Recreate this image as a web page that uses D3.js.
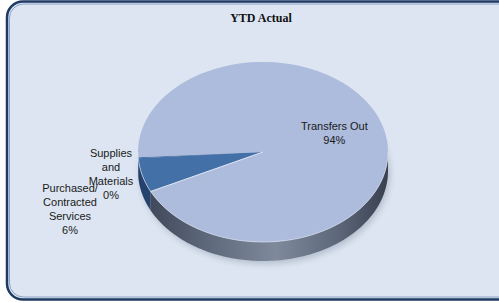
<!DOCTYPE html>
<html>
<head>
<meta charset="utf-8">
<script src="https://cdn.jsdelivr.net/npm/d3@7.9.0/dist/d3.min.js"></script>
<style>
  html, body { margin: 0; padding: 0; background: #ffffff; }
  svg { display: block; }
</style>
</head>
<body>
<svg id="chart" width="499" height="303"></svg>
<script>
// chart data
const title = 'YTD Actual';
const categories = ['Purchased/Contracted Services', 'Supplies and Materials', 'Transfers Out'];
const values = [6.1, 0.2, 93.7];
const labelLines = [
  ['Purchased/', 'Contracted', 'Services'],
  ['Supplies', 'and', 'Materials'],
  ['Transfers Out']
];

const W = 499, H = 303;
const cx = 263, cy = 152, rx = 125, ry = 90, depth = 19;
const startDeg = 244;

const svg = d3.select('#chart');
const defs = svg.append('defs');

// frame background
svg.append('rect')
  .attr('x', 7).attr('y', 1.5)
  .attr('width', 540).attr('height', 298)
  .attr('rx', 16)
  .attr('fill', '#dce5f1')
  .attr('stroke', '#1f3b63')
  .attr('stroke-width', 2.5);
svg.append('rect')
  .attr('x', 9.5).attr('y', 4)
  .attr('width', 540).attr('height', 293)
  .attr('rx', 14)
  .attr('fill', 'none')
  .attr('stroke', '#8aa2c6')
  .attr('stroke-width', 1);

// title
svg.append('text')
  .attr('x', 261).attr('y', 22)
  .attr('text-anchor', 'middle')
  .attr('font-family', '"Liberation Serif", "Times New Roman", serif')
  .attr('font-weight', 'bold')
  .attr('font-size', 12)
  .attr('fill', '#111')
  .text(title);

// gradient for the pie wall
const wallGrad = defs.append('linearGradient')
  .attr('id', 'wall')
  .attr('gradientUnits', 'userSpaceOnUse')
  .attr('x1', cx - rx).attr('x2', cx + rx).attr('y1', 0).attr('y2', 0);
[[0, '#3a4354'], [0.25, '#5b6578'], [0.55, '#7f899c'], [0.8, '#5d677a'], [1, '#39414f']]
  .forEach(([o, c]) => wallGrad.append('stop').attr('offset', o).attr('stop-color', c));

const darkWall = defs.append('linearGradient')
  .attr('id', 'wallDark')
  .attr('gradientUnits', 'userSpaceOnUse')
  .attr('x1', cx - rx).attr('x2', cx + rx).attr('y1', 0).attr('y2', 0);
[[0, '#24406a'], [0.3, '#34588c'], [1, '#34588c']]
  .forEach(([o, c]) => darkWall.append('stop').attr('offset', o).attr('stop-color', c));

defs.append('filter').attr('id', 'blur')
  .attr('x', '-20%').attr('y', '-50%').attr('width', '140%').attr('height', '200%')
  .append('feGaussianBlur').attr('stdDeviation', 3);

const pie = d3.pie().sort(null).value(d => d)
  .startAngle(startDeg * Math.PI / 180)
  .endAngle((startDeg + 360) * Math.PI / 180);
const arcs = pie(values);

const topColors = ['#4470a8', '#4470a8', '#adbbdc'];
const wallFills = ['url(#wallDark)', 'url(#wallDark)', 'url(#wall)'];

const px = a => cx + rx * Math.sin(a);
const py = a => cy - ry * Math.cos(a);

// soft shadow under pie
svg.append('ellipse')
  .attr('cx', cx + 2).attr('cy', cy + depth + 3)
  .attr('rx', rx).attr('ry', ry)
  .attr('fill', '#5a6478')
  .attr('opacity', 0.3)
  .attr('filter', 'url(#blur)');

// pie walls (only the front half is visible)
function wallPath(a0, a1) {
  const segs = [];
  for (let k = -1; k <= 2; k++) {
    const lo = Math.max(a0, Math.PI / 2 + 2 * Math.PI * k);
    const hi = Math.min(a1, 3 * Math.PI / 2 + 2 * Math.PI * k);
    if (hi > lo) segs.push([lo, hi]);
  }
  return segs.map(([lo, hi]) => {
    const n = Math.max(2, Math.ceil((hi - lo) / 0.02));
    const ts = d3.range(n + 1).map(i => lo + (hi - lo) * i / n);
    const topPts = ts.map(t => [px(t), py(t)]);
    const botPts = ts.slice().reverse().map(t => [px(t), py(t) + depth]);
    return d3.line()(topPts.concat(botPts)) + 'Z';
  }).join(' ');
}

svg.append('g').selectAll('path')
  .data(arcs)
  .join('path')
  .attr('d', d => wallPath(d.startAngle, d.endAngle))
  .attr('fill', (d, i) => wallFills[i]);

// top faces
const arcGen = d3.arc().innerRadius(0).outerRadius(rx);
svg.append('g')
  .attr('transform', `translate(${cx},${cy}) scale(1,${ry / rx})`)
  .selectAll('path')
  .data(arcs)
  .join('path')
  .attr('d', arcGen)
  .attr('fill', (d, i) => topColors[i]);

// light line on the lower cut of the small slice
const cut = arcs[0].startAngle;
svg.append('line')
  .attr('x1', cx).attr('y1', cy)
  .attr('x2', px(cut)).attr('y2', py(cut))
  .attr('stroke', '#e8eef8')
  .attr('stroke-width', 0.9);

// light rim along front edge
svg.append('path')
  .attr('d', d3.line()(d3.range(91).map(i => {
    const t = Math.PI / 2 + Math.PI * i / 90;
    return [px(t), py(t)];
  })))
  .attr('fill', 'none')
  .attr('stroke', '#dfe6f3')
  .attr('stroke-width', 0.8)
  .attr('opacity', 0.8);

// data labels
const labelPos = [
  { x: 70, y: 188 },
  { x: 111, y: 153 },
  null
];
const pct = d => Math.round(d.value / d3.sum(values) * 100) + '%';
const lab = svg.append('g')
  .attr('font-family', '"Liberation Sans", Arial, sans-serif')
  .attr('font-size', 11)
  .attr('fill', '#1a1a1a')
  .attr('text-anchor', 'middle');

arcs.forEach((d, i) => {
  let x, y;
  if (labelPos[i]) {
    x = labelPos[i].x; y = labelPos[i].y;
  } else {
    const mid = (d.startAngle + d.endAngle) / 2;
    x = cx + rx * 0.59 * Math.sin(mid);
    y = cy - ry * 0.59 * Math.cos(mid) - 13;
  }
  const lines = labelLines[i].concat([pct(d)]);
  const t = lab.append('text').attr('x', x).attr('y', y + 4);
  lines.forEach((ln, j) => {
    t.append('tspan').attr('x', x).attr('dy', j === 0 ? 0 : 14).text(ln);
  });
});
</script>
</body>
</html>
